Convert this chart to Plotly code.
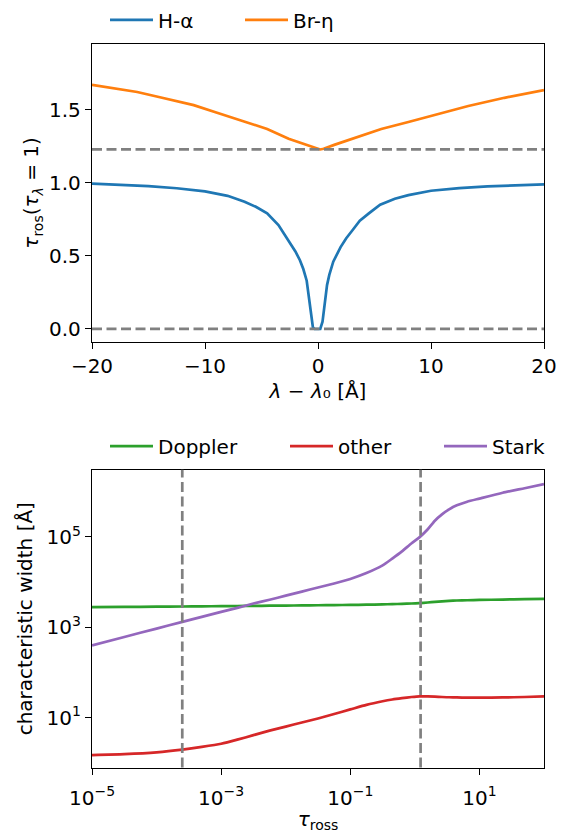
import plotly.graph_objects as go

# ---------------- data: top panel ----------------
ha_x = [-20, -17.5, -15, -12.5, -10, -8, -6.5, -5.5, -4.5, -3.5, -3, -2.5, -2, -1.6, -1.3,
        -1.0, -0.8, -0.6, -0.45, -0.3, 0.2, 0.4, 0.6, 0.8, 1.0, 1.35, 2, 2.5, 3, 3.7, 4.5,
        5.5, 6.8, 8, 10, 12.5, 15, 17.5, 20]
ha_y = [0.993, 0.987, 0.977, 0.962, 0.94, 0.91, 0.87, 0.835, 0.79, 0.71, 0.65, 0.59, 0.53,
        0.47, 0.41, 0.33, 0.22, 0.09, 0.01, 0.0, 0.0, 0.05, 0.2, 0.3, 0.37, 0.46, 0.56, 0.62,
        0.67, 0.74, 0.79, 0.85, 0.89, 0.915, 0.945, 0.963, 0.975, 0.983, 0.988]

br_x = [-20, -16, -13.8, -11, -9, -6.5, -4.5, -2.6, -1, 0, 0.2, 0.5, 1.5, 3, 5.6, 8, 10,
        13.3, 16.5, 20]
br_y = [1.669, 1.62, 1.58, 1.53, 1.48, 1.42, 1.367, 1.30, 1.255, 1.232, 1.227, 1.232, 1.26,
        1.30, 1.367, 1.415, 1.458, 1.524, 1.58, 1.632]

# Rosseland optical depth where each line core forms (tau_lambda = 1)
tau_core_ha = 2.5e-4
tau_core_br = 1.227

# ---------------- data: bottom panel ----------------
tau = [1e-5, 3.162e-5, 1e-4, 2.512e-4, 5.012e-4, 1e-3, 1.778e-3, 3.162e-3, 5.623e-3, 1e-2,
       1.778e-2, 3.162e-2, 5.623e-2, 0.1, 0.1778, 0.3162, 0.4467, 0.631, 0.8913, 1.175,
       1.585, 2.042, 2.63, 3.388, 4.467, 6.457, 10, 22.91, 50.12, 100]
doppler = [2805, 2825, 2851, 2884, 2904, 2938, 2958, 2979, 2999, 3020, 3048, 3069, 3097,
           3126, 3162, 3214, 3251, 3296, 3357, 3428, 3532, 3648, 3758, 3846, 3908, 3963,
           4027, 4111, 4188, 4266]
other = [1.479, 1.549, 1.698, 1.950, 2.239, 2.630, 3.236, 4.074, 5.129, 6.310, 7.762, 9.550,
         12.02, 15.14, 19.05, 22.91, 25.12, 26.92, 28.51, 29.51, 29.51, 29.17, 28.51, 28.18,
         27.86, 27.54, 27.54, 27.86, 28.51, 29.51]
stark = [398, 610, 933, 1318, 1698, 2188, 2692, 3350, 4074, 5012, 6166, 7586, 9333, 11750,
         15850, 23440, 33110, 47860, 72440, 97720, 147900, 229100, 316200, 407400, 501200,
         602600, 707900, 955000, 1202000, 1479000]

# ---------------- styling ----------------
W, H = 563, 833
ML, MR = 92, 19
FONT = dict(family="DejaVu Sans", size=20, color="black")
LW = 2.7
C_BLUE, C_ORANGE, C_GREEN, C_RED, C_PURPLE = "#1f77b4", "#ff7f0e", "#2ca02c", "#d62728", "#9467bd"
DASH = "10px,4.5px"
ITEMW = 43


def px2paper_y(py):
    return 1 - py / H


def px2paper_x(px):
    return (px - ML) / (W - ML - MR)


fig = go.Figure()

fig.add_trace(go.Scatter(x=ha_x, y=ha_y, mode="lines", name="H-α",
                         line=dict(color=C_BLUE, width=LW), xaxis="x", yaxis="y",
                         legend="legend"))
fig.add_trace(go.Scatter(x=br_x, y=br_y, mode="lines", name="Br-η",
                         line=dict(color=C_ORANGE, width=LW), xaxis="x", yaxis="y",
                         legend="legend2"))

fig.add_trace(go.Scatter(x=tau, y=doppler, mode="lines", name="Doppler",
                         line=dict(color=C_GREEN, width=LW, shape="spline", smoothing=0.6),
                         xaxis="x2", yaxis="y2", legend="legend3"))
fig.add_trace(go.Scatter(x=tau, y=other, mode="lines", name="other",
                         line=dict(color=C_RED, width=LW, shape="spline", smoothing=0.6),
                         xaxis="x2", yaxis="y2", legend="legend4"))
fig.add_trace(go.Scatter(x=tau, y=stark, mode="lines", name="Stark",
                         line=dict(color=C_PURPLE, width=LW, shape="spline", smoothing=0.6),
                         xaxis="x2", yaxis="y2", legend="legend5"))

for t in (tau_core_ha, tau_core_br):
    fig.add_shape(type="line", xref="x domain", yref="y", x0=0, x1=1, y0=t, y1=t,
                  line=dict(color="gray", width=LW, dash=DASH))
    fig.add_shape(type="line", xref="x2", yref="y2 domain", x0=t, x1=t, y0=0, y1=1,
                  line=dict(color="gray", width=LW, dash=DASH))

axis_common = dict(showline=True, mirror=True, linecolor="black", linewidth=1.4,
                   ticks="outside", ticklen=6, tickwidth=1.4, tickcolor="black",
                   showgrid=False, zeroline=False, tickfont=FONT)

top_dom = [px2paper_y(335), px2paper_y(33.7)]
bot_dom = [px2paper_y(766.7), px2paper_y(465)]

leg_common = dict(orientation="h", xanchor="left", yanchor="middle", itemwidth=ITEMW,
                  bgcolor="rgba(0,0,0,0)", font=FONT, borderwidth=0)
TXT_OFF = ITEMW + 10

fig.update_layout(
    width=W, height=H,
    margin=dict(l=ML, r=MR, t=0, b=0),
    paper_bgcolor="white", plot_bgcolor="white",
    font=FONT,
    xaxis=dict(axis_common, domain=[0, 1], anchor="y", range=[-20, 20], dtick=10, tick0=0,
               title=dict(text="<i>λ</i> − <i>λ</i>₀ [Å]", font=FONT, standoff=7)),
    yaxis=dict(axis_common, domain=top_dom, anchor="x", range=[-0.086, 1.946], dtick=0.5,
               tick0=0, tickformat=".1f",
               title=dict(text="<i>τ</i><sub>ros</sub>(<i>τ</i><sub><i>λ</i></sub> = 1)",
                          font=FONT, standoff=4)),
    xaxis2=dict(axis_common, domain=[0, 1], anchor="y2", type="log", range=[-5, 2],
                tickvals=[1e-5, 1e-3, 1e-1, 1e1], ticklabelstandoff=6,
                ticktext=["10<sup>−5</sup>", "10<sup>−3</sup>", "10<sup>−1</sup>", "10<sup>1</sup>"],
                title=dict(text="<i>τ</i><sub>ross</sub>", font=FONT, standoff=2)),
    yaxis2=dict(axis_common, domain=bot_dom, anchor="x2", type="log", range=[-0.108, 6.486],
                tickvals=[1e1, 1e3, 1e5],
                ticktext=["10<sup>1</sup>", "10<sup>3</sup>", "10<sup>5</sup>"],
                title=dict(text="characteristic width [Å]", font=FONT, standoff=8)),
    legend=dict(leg_common, x=px2paper_x(158 - TXT_OFF), y=px2paper_y(9)),
    legend2=dict(leg_common, x=px2paper_x(293 - TXT_OFF), y=px2paper_y(9)),
    legend3=dict(leg_common, x=px2paper_x(158 - TXT_OFF), y=px2paper_y(441)),
    legend4=dict(leg_common, x=px2paper_x(338 - TXT_OFF), y=px2paper_y(441)),
    legend5=dict(leg_common, x=px2paper_x(492 - TXT_OFF), y=px2paper_y(441)),
    showlegend=True,
)

fig.write_html("out.html")
